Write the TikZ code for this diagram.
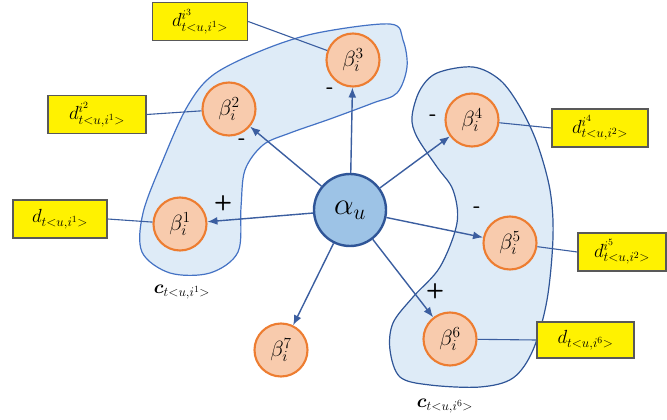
\documentclass[tikz,border=0pt]{standalone}
\usepackage{fix-cm}
\usepackage{bm}
\usetikzlibrary{arrows.meta}
\definecolor{betafill}{HTML}{F8CBAD}
\definecolor{betaline}{HTML}{ED7D31}
\definecolor{alphafill}{HTML}{9DC3E6}
\definecolor{alphaline}{HTML}{2F5597}
\definecolor{blobfill}{HTML}{DEEBF7}
\definecolor{blobline}{HTML}{4472C4}
\definecolor{blobdark}{HTML}{2F5597}
\definecolor{arrowc}{HTML}{3B5EA0}
\definecolor{boxline}{HTML}{595959}
\begin{document}
\begin{tikzpicture}[x=1pt,y=-1pt,
 betanode/.style={circle,draw=betaline,fill=betafill,line width=2.1pt,minimum size=53pt,inner sep=0pt,font=\fontsize{22}{24}\selectfont},
 alphanode/.style={circle,draw=alphaline,fill=alphafill,line width=2.4pt,minimum size=72pt,inner sep=0pt,font=\fontsize{31}{34}\selectfont},
 dbox/.style={draw=boxline,fill=yellow,line width=1.4pt,minimum height=38pt,inner sep=0pt,font=\fontsize{19}{21}\selectfont},
 arr/.style={draw=arrowc,line width=1.4pt,-{Latex[length=10pt,width=8pt]}},
 link/.style={draw=arrowc,line width=1.1pt},
 sign/.style={font=\fontsize{21}{23}\selectfont\sffamily\bfseries},
 clabel/.style={font=\fontsize{19}{21}\selectfont},
 blob/.style={fill=blobfill,line width=1.2pt}]
\useasboundingbox (0,0) rectangle (667,420);

% groups
\path[blob,draw=blobline] plot[smooth cycle,tension=0.55] coordinates {
 (390,24) (403,40) (407,67) (397,93) (373,103) (330,119) (290,133) (263,145)
 (245,170) (241,207) (238,252) (210,273) (170,273) (142,252) (143,213)
 (163,160) (187,107) (213,75) (263,50) (317,33)};
\path[blob,draw=blobdark] plot[smooth cycle,tension=0.55] coordinates {
 (437,73) (473,67) (500,80) (520,107) (537,143) (550,190) (553,237) (547,300)
 (533,350) (513,378) (480,387) (430,385) (400,377) (390,350) (393,323)
 (413,297) (440,267) (457,223) (453,190) (437,167) (417,137) (412,117) (420,90)};

% nodes
\node[alphanode] (a) at (350,210) {$\alpha_u$};
\node[betanode] (b1) at (180,224) {$\beta_i^1$};
\node[betanode] (b2) at (229,109) {$\beta_i^2$};
\node[betanode] (b3) at (353,60) {$\beta_i^3$};
\node[betanode] (b4) at (472,120) {$\beta_i^4$};
\node[betanode] (b5) at (510,243) {$\beta_i^5$};
\node[betanode] (b6) at (450,339) {$\beta_i^6$};
\node[betanode] (b7) at (281,350) {$\beta_i^7$};

\node[dbox,minimum width=94pt] (d1) at (60,219) {$d_{t<u,i^1>}$};
\node[dbox,minimum width=98pt] (d2) at (97,114.5) {$d^{i^2}_{t<u,i^1>}$};
\node[dbox,minimum width=95pt] (d3) at (200,21.5) {$d^{i^3}_{t<u,i^1>}$};
\node[dbox,minimum width=96pt] (d4) at (600,128) {$d^{i^4}_{t<u,i^2>}$};
\node[dbox,minimum width=88pt] (d5) at (622,252) {$d^{i^5}_{t<u,i^2>}$};
\node[dbox,minimum width=97pt,minimum height=36pt] (d6) at (585.5,340) {$d_{t<u,i^6>}$};

% arrows
\foreach \b in {b1,b2,b3,b4,b5,b6,b7} \draw[arr] (a) -- (\b);

% links to boxes
\draw[link] (b1) -- (d1.east);
\draw[link] (b2) -- (d2.east);
\draw[link] (b3) -- (d3.east);
\draw[link] (b4) -- (d4.west);
\draw[link] (b5) -- (d5.west);
\draw[link] (b6) -- (d6.west);

% signs
\node[sign] (s3) at (330,91) {-};
\node[sign] (s2) at (242,142) {-};
\node[sign] (s1) at (223,203) {+};
\node[sign] (s4) at (433,118) {-};
\node[sign] (s5) at (477,210) {-};
\node[sign] (s6) at (435,291) {+};

% group labels
\node[clabel] (c1) at (182,292) {$\bm{c}_{t<u,i^1>}$};
\node[clabel] (c6) at (445,406) {$\bm{c}_{t<u,i^6>}$};
\end{tikzpicture}
\end{document}
